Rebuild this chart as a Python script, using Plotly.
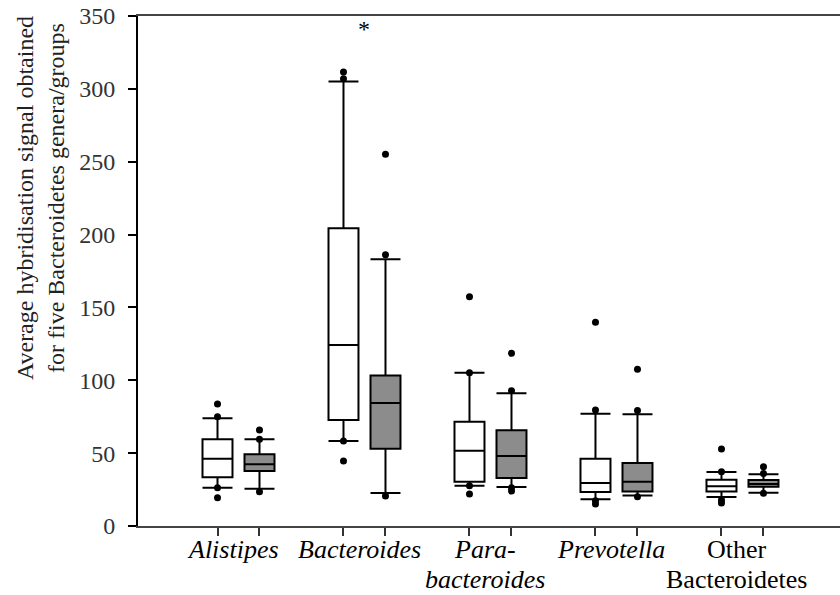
import plotly.graph_objects as go

# Five Bacteroidetes genera/groups, two boxes (white / grey) per group
label_line1 = ["<i>Alistipes</i>", "<i>Bacteroides</i>", "<i>Para-</i>", "<i>Prevotella</i>", "Other"]
label_line2 = ["", "", "<i>bacteroides</i>", "", "Bacteroidetes"]
group_pos = [1, 2, 3, 4, 5]
offsets = [-1 / 6, 1 / 6]

# Box statistics, ordered group by group: white box then grey box
q1 = [33.4, 37.7, 72.8, 53.1, 30.4, 32.9, 23.3, 23.6, 23.6, 27.0]
median = [46.2, 42.3, 124.2, 84.4, 51.7, 48.0, 29.5, 30.4, 27.2, 28.8]
q3 = [59.5, 49.2, 204.3, 103.2, 71.6, 65.7, 46.2, 43.2, 31.8, 31.6]
lower = [26.3, 25.6, 58.3, 22.6, 27.7, 26.8, 18.3, 21.0, 19.9, 22.9]
upper = [73.9, 59.5, 305.0, 183.0, 105.2, 91.1, 77.1, 76.7, 37.0, 35.5]

# Individual points plotted at/beyond the whiskers (5th/95th percentiles and outliers)
points = [
    [83.7, 75.0, 26.3, 19.4],
    [65.9, 59.5, 23.5],
    [311.6, 307.0, 58.3, 44.6],
    [255.1, 186.2, 20.6],
    [157.4, 105.2, 27.7, 22.0],
    [118.5, 92.9, 26.3, 24.0],
    [139.8, 79.6, 17.4, 15.1],
    [107.5, 79.2, 20.1],
    [52.8, 37.3, 17.8, 15.8],
    [40.7, 36.1, 22.4],
]

fills = ["white", "#8c8c8c"]
y_ticks = [0, 50, 100, 150, 200, 250, 300, 350]
significance_group = 2
significance_y = 341

FONT = "Liberation Serif"

fig = go.Figure()

box_x = []
for gi, gp in enumerate(group_pos):
    for si, off in enumerate(offsets):
        i = gi * 2 + si
        x = gp + off
        box_x.append(x)
        fig.add_trace(go.Box(
            x=[x], q1=[q1[i]], median=[median[i]], q3=[q3[i]],
            lowerfence=[lower[i]], upperfence=[upper[i]],
            width=0.238, whiskerwidth=1,
            fillcolor=fills[si],
            line=dict(color="black", width=2),
            boxpoints=False, showlegend=False, hoverinfo="skip",
        ))

for i, vals in enumerate(points):
    fig.add_trace(go.Scatter(
        x=[box_x[i]] * len(vals), y=vals, mode="markers",
        marker=dict(color="black", size=7),
        showlegend=False, hoverinfo="skip",
    ))

# Group labels under each pair of boxes (one annotation per line)
for gp, l1, l2 in zip(group_pos, label_line1, label_line2):
    for txt, shift in ((l1, -7), (l2, -37)):
        if not txt:
            continue
        fig.add_annotation(
            x=gp, y=0, xref="x", yref="paper", yanchor="top",
            yshift=shift, xshift=-5,
            text=txt, showarrow=False,
            font=dict(family=FONT, size=26, color="black"),
        )

# Significance marker
fig.add_annotation(
    x=significance_group, y=significance_y, text="*", showarrow=False,
    font=dict(family=FONT, size=24, color="black"),
)

# Y-axis title (two lines)
fig.add_annotation(
    xref="paper", yref="paper", x=-0.1396, y=0.643,
    xanchor="center", yanchor="middle",
    text="Average hybridisation signal obtained<br>for five Bacteroidetes genera/groups",
    textangle=-90, showarrow=False,
    font=dict(family=FONT, size=24, color="#222"),
)

fig.update_layout(
    width=840, height=595,
    margin=dict(l=138, r=0, t=16, b=69),
    paper_bgcolor="white", plot_bgcolor="white",
    boxmode="overlay",
    font=dict(family=FONT),
    xaxis=dict(
        range=[0.2024, 5.774], tickvals=box_x, ticktext=[""] * len(box_x),
        ticks="outside", ticklen=8, tickwidth=2, tickcolor="#333",
        showline=True, linecolor="#444", linewidth=2, mirror=True,
        showgrid=False, zeroline=False,
    ),
    yaxis=dict(
        range=[0, 350], tickvals=y_ticks,
        ticks="outside", ticklen=8, tickwidth=2, tickcolor="black",
        showline=True, linecolor="black", linewidth=2,
        showgrid=False, zeroline=False,
        ticklabelstandoff=8,
        tickfont=dict(family=FONT, size=24, color="#333"),
    ),
)

fig.write_html("out.html")
